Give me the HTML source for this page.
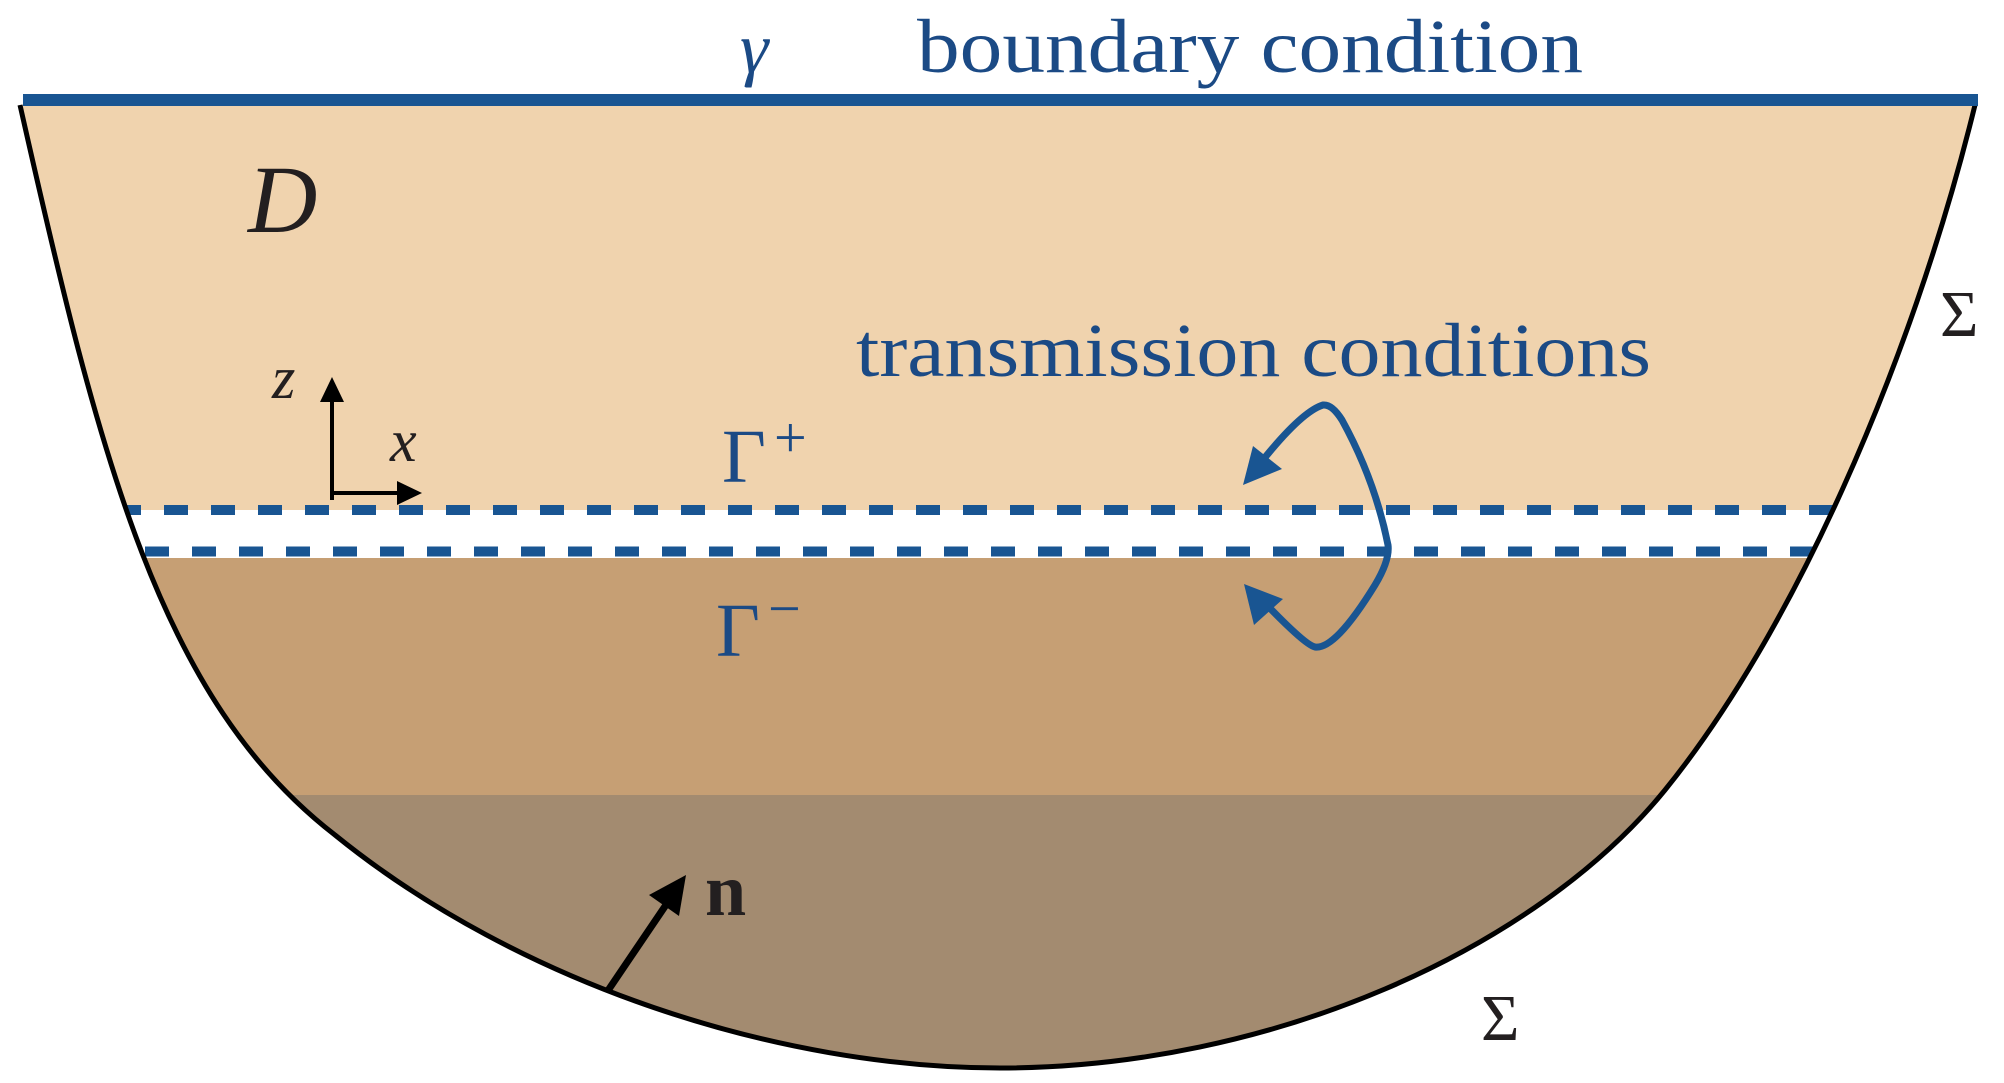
<!DOCTYPE html>
<html><head><meta charset="utf-8"><style>html,body{margin:0;padding:0;background:#fff}svg{display:block}</style></head>
<body>
<svg width="2004" height="1083" viewBox="0 0 2004 1083" xmlns="http://www.w3.org/2000/svg">
<defs>
<clipPath id="c"><path d="M20,105 C100,460 160,700 335,835 C520,985 780,1068 1000,1068 C1270,1068 1535,950 1665,790 C1790,636 1910,370 1975,105 Z"/></clipPath>
</defs>
<g clip-path="url(#c)">
<rect x="0" y="100" width="2004" height="410" fill="#F0D3AE"/>
<rect x="0" y="510" width="2004" height="48" fill="#FFFFFF"/>
<rect x="0" y="558" width="2004" height="237" fill="#C69F74"/>
<rect x="0" y="795" width="2004" height="300" fill="#A38B70"/>
<line x1="117" y1="510" x2="1900" y2="510" stroke="#195592" stroke-width="10" stroke-dasharray="24 23"/>
<line x1="145" y1="551.5" x2="1900" y2="551.5" stroke="#195592" stroke-width="10" stroke-dasharray="24 23"/>
</g>
<path d="M20,105 C100,460 160,700 335,835 C520,985 780,1068 1000,1068 C1270,1068 1535,950 1665,790 C1790,636 1910,370 1975,105" fill="none" stroke="#000" stroke-width="5"/>
<rect x="23" y="94" width="1955" height="12" fill="#195592"/>
<line x1="332" y1="500" x2="332" y2="395" stroke="#000" stroke-width="4"/>
<polygon points="332,377 320,402 344,402" fill="#000"/>
<line x1="330" y1="493" x2="402" y2="493" stroke="#000" stroke-width="4"/>
<polygon points="422,493 397,481 397,505" fill="#000"/>
<line x1="607" y1="992" x2="672" y2="896" stroke="#000" stroke-width="7"/>
<polygon points="686,875 649,895 679,916" fill="#000"/>
<path d="M1255,470 Q1300,412 1323,405 Q1332,404 1342,420 Q1375,480 1388,545 Q1390,560 1375,585 Q1335,650 1315,647 Q1305,645 1262,600" fill="none" stroke="#195592" stroke-width="7" stroke-linecap="round" stroke-linejoin="round"/>
<polygon points="1243,485 1253,446 1282,469" fill="#195592"/>
<polygon points="1244,584 1283,599 1254,625" fill="#195592"/>
<g font-family="'Liberation Serif', 'DejaVu Serif', serif">
<text x="740" y="72" font-size="72" font-style="italic" fill="#1B4A85">γ</text>
<text x="917" y="72" font-size="76" fill="#1B4A85" textLength="666" lengthAdjust="spacingAndGlyphs">boundary condition</text>
<text x="856" y="376" font-size="76" fill="#1B4A85" textLength="795" lengthAdjust="spacingAndGlyphs">transmission conditions</text>
<text x="248" y="232" font-size="96" font-style="italic" fill="#231F20">D</text>
<text x="272" y="398" font-size="60" font-style="italic" fill="#231F20">z</text>
<text x="390" y="461" font-size="60" font-style="italic" fill="#231F20">x</text>
<text x="722" y="482" font-size="76" fill="#1B4A85">Γ</text>
<text x="774" y="457" font-size="58" fill="#1B4A85">+</text>
<text x="716" y="656" font-size="76" fill="#1B4A85">Γ</text>
<text x="768" y="628" font-size="58" fill="#1B4A85">−</text>
<text x="1940" y="336" font-size="66" fill="#231F20">Σ</text>
<text x="1481" y="1040" font-size="66" fill="#231F20">Σ</text>
<text x="705" y="915" font-size="74" font-weight="bold" fill="#231F20">n</text>
</g>
</svg>
</body></html>
